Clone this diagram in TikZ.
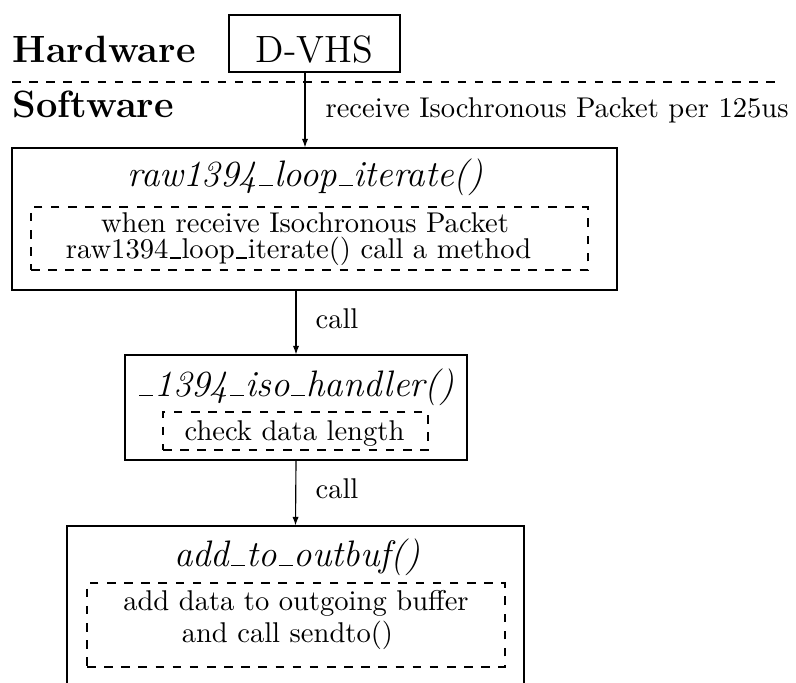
\documentclass[tikz,border=0pt]{standalone}
\usetikzlibrary{arrows.meta}
% short low rule used for underscores in identifiers
\newcommand\usc{\leavevmode\kern.05em\vbox{\hrule width.38em}\kern.03em}
\begin{document}
\begin{tikzpicture}[x=0.35pt,y=-0.35pt,line width=0.4pt,
  big/.style={font=\fontsize{13.3}{16}\selectfont},
  layer/.style={font=\fontsize{13.3}{16}\selectfont\bfseries,inner sep=0pt,anchor=base west},
  fname/.style={font=\fontsize{12.9}{15}\selectfont\itshape,inner sep=0pt,anchor=base},
  frame/.style={draw,rectangle,inner sep=0pt},
  note/.style={draw,dashed,rectangle,inner sep=0pt},
  notetext/.style={font=\fontsize{10}{9.3}\selectfont,align=center,inner sep=0pt},
  lbl/.style={font=\fontsize{10}{12}\selectfont,inner sep=0pt,anchor=base west},
  flow/.style={-{Latex[length=3pt,width=2.2pt]}}]
\useasboundingbox (0,0) rectangle (796,682);
\clip (0,0) rectangle (796,682);

% layer captions and the hardware/software boundary
\node[layer] (hw) at (12,63) {Hardware};
\node[layer] (sw) at (12,118) {Software};
\coordinate (sepL) at (12,82);
\coordinate (sepR) at (777,82);
\draw[dashed] (sepL) -- (sepR);

% device
\node[frame,big,minimum width=59.85pt,minimum height=19.95pt,
      text height=13.64pt,text depth=0pt] (dvhs) at (314.5,43.5) {D-VHS};

% raw1394_loop_iterate()
\node[frame,minimum width=211.75pt,minimum height=49.7pt] (raw) at (314.5,219) {};
\node[fname] (rawname) at (305.5,186) {raw1394\usc loop\usc iterate()};
\node[note,minimum width=194.95pt,minimum height=22.05pt] (rawnote) at (309.5,238.5) {};
\node[notetext] (rawtext) at (305,239)
  {when receive Isochronous Packet\\raw1394\usc loop\usc iterate() call a method\hspace*{4.5pt}};

% _1394_iso_handler()
\node[frame,minimum width=119.7pt,minimum height=36.75pt] (iso) at (296,407.5) {};
\node[fname] (isoname) at (296,396) {\usc 1394\usc iso\usc handler()};
\node[note,minimum width=92.75pt,minimum height=13.3pt] (isonote) at (295.5,431) {};
\node[notetext] (isotext) at (294.5,434) {check data length};

% add_to_outbuf()
\node[frame,minimum width=159.95pt,minimum height=67.9pt] (add) at (295.5,623) {};
\node[fname] (addname) at (297,566) {add\usc to\usc outbuf()};
\node[note,minimum width=146.3pt,minimum height=29.4pt] (addnote) at (296,625) {};
\node[notetext,font=\fontsize{10}{11.2}\selectfont] (addtext) at (296,620)
  {add data to outgoing buffer\\and call sendto()\hspace*{6pt}};

% data flow
\coordinate (tap) at (305,0);
\draw[flow] (dvhs.south -| tap) -- (raw.north -| tap);
\node[lbl] (recv) at (325,118) {receive Isochronous Packet per 125us};
\draw[flow] (raw.south -| iso.north) -- (iso.north);
\node[lbl] (call1) at (315,328) {call};
\draw[flow] (iso.south) -- (add.north);
\node[lbl] (call2) at (315,498) {call};
\end{tikzpicture}
\end{document}
